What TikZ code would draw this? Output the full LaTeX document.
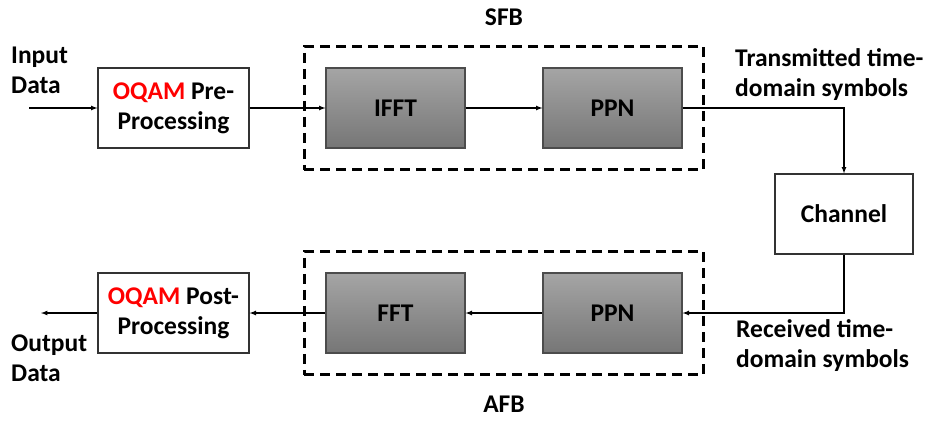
\documentclass[tikz,border=0pt]{standalone}
\usepackage{fontspec}
\setmainfont{Carlito}
\usetikzlibrary{positioning,fit,arrows}
\definecolor{oqamred}{RGB}{255,0,0}
\definecolor{boxtop}{RGB}{165,165,165}
\definecolor{boxbot}{RGB}{118,118,118}
\tikzset{
  whitebox/.style={draw=black!80,line width=1.2pt,fill=white,minimum width=151pt,minimum height=80pt,align=center,inner sep=0pt},
  graybox/.style={draw=black!70,line width=1.2pt,top color=boxtop,bottom color=boxbot,minimum width=139pt,minimum height=80pt,inner sep=0pt},
  groupbox/.style={draw,dashed,line width=2.6pt,dash pattern=on 10pt off 6pt,inner sep=21pt},
  lbl/.style={align=left,inner sep=0pt},
  flow/.style={->,line width=1.2pt}
}
\begin{document}
\begin{tikzpicture}[>=latex,x=1pt,y=-1pt,font=\fontsize{25.5}{30}\selectfont\bfseries]
\useasboundingbox (0,0) rectangle (925,421);
% transmitter side
\node[whitebox] (pre) at (173.5,108) {\textcolor{oqamred}{OQAM} Pre-\\Processing};
\node[graybox] (ifft) at (395.5,108) {IFFT};
\node[graybox] (ppnt) at (612.5,108) {PPN};
\node[groupbox,fit=(ifft)(ppnt)] (sfb) {};
\node[above=19pt of sfb.north,inner sep=0pt] (sfbtxt) {SFB};
\node[lbl,anchor=west] (indata) at (11,70) {Input\\Data};
\coordinate (instart) at (29,108);
% channel
\node[whitebox,minimum width=138pt] (chan) at (844,214) {Channel};
\node[lbl,anchor=west] (txsym) at (735,75) {Transmitted time-\\domain symbols};
\node[lbl,anchor=west] (rxsym) at (736,346) {Received time-\\domain symbols};
% receiver side
\node[graybox] (ppnr) at (612.5,313) {PPN};
\node[graybox] (fft) at (395.5,313) {FFT};
\node[whitebox] (post) at (173.5,313) {\textcolor{oqamred}{OQAM} Post-\\Processing};
\node[groupbox,fit=(fft)(ppnr)] (afb) {};
\node[below=20pt of afb.south,inner sep=0pt] (afbtxt) {AFB};
\node[lbl,anchor=west] (outdata) at (11,358) {Output\\Data};
\coordinate (outend) at (41,313);
% connections
\draw[flow] (instart) -- (pre);
\draw[flow] (pre) -- (ifft);
\draw[flow] (ifft) -- (ppnt);
\draw[flow] (ppnt) -| (chan);
\draw[flow] (chan) |- (ppnr);
\draw[flow] (ppnr) -- (fft);
\draw[flow] (fft) -- (post);
\draw[flow] (post) -- (outend);
\end{tikzpicture}
\end{document}
